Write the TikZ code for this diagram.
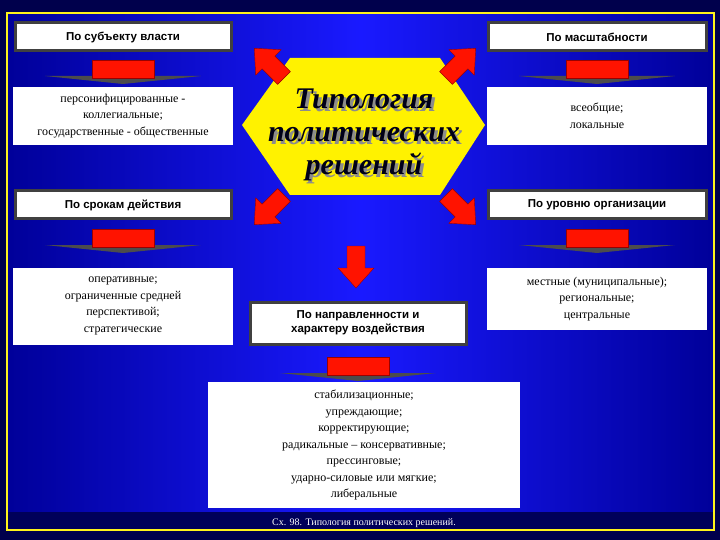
\documentclass[tikz,border=0pt]{standalone}
\usepackage{fontspec}
\setmainfont{Liberation Serif}
\newfontfamily\hdfont{Liberation Sans}
\begin{document}
\begin{tikzpicture}[x=1pt,y=-1pt,
  hdr/.style={draw=black!75,line width=3pt,fill=white,font=\hdfont\bfseries\fontsize{11.5}{14}\selectfont,align=center,inner sep=0pt},
  cnt/.style={fill=white,font=\fontsize{12}{16.5}\selectfont,align=center,inner sep=0pt},
  ttl/.style={font=\bfseries\itshape\fontsize{30}{33}\selectfont,align=center,inner sep=0pt},
  redc/.style={fill=red!85!orange,draw=red!60!black,line width=0.4pt}]
\useasboundingbox (0,0) rectangle (720,540);
\fill[blue!30!black] (0,0) rectangle (720,540);
\shade[left color=blue!60!black,right color=blue!60!black,middle color=blue!90!white] (7,13) rectangle (714,512);
\fill[blue!35!black] (7,512) rectangle (714,530);
\draw[yellow!90!white,line width=1.5pt] (7,13) rectangle (714,530);
\tikzset{blk/.pic={\path[redc] (0,-9)--(22,-9)--(22,-18)--(42,0)--(22,18)--(22,9)--(0,9)--cycle;}}
\tikzset{dn/.pic={\fill[black!70] (-78,-2)--(78,-2)--(0,6)--cycle;\path[redc] (-31,-18) rectangle (31,0);}}
% hexagon
\fill[yellow] (242,125)--(290,58)--(440,58)--(485,125)--(440,195)--(290,195)--cycle;
\node[ttl,text=black!45] at (367,138) {Типология\\политических\\решений};
\node (title) [ttl,text=black!90!blue] at (364,135) {Типология\\политических\\решений};
% headers
\node (h1) [hdr,minimum width=216,minimum height=28] at (123,37) {По субъекту власти};
\node (h2) [hdr,minimum width=218,minimum height=28] at (597,37) {По масштабности};
\node (h3) [hdr,minimum width=216,minimum height=28] at (123,205) {По срокам действия};
\node (h4) [hdr,minimum width=218,minimum height=28] at (597,205) {По уровню организации};
\node (h5) [hdr,minimum width=216,minimum height=42] at (358,323) {По направленности и\\характеру воздействия};
% contents
\node (c1) [cnt,minimum width=220,minimum height=58] at (123,116) {персонифицированные -\\коллегиальные;\\государственные - общественные};
\node (c2) [cnt,minimum width=220,minimum height=58] at (597,116) {всеобщие;\\локальные};
\node (c3) [cnt,minimum width=220,minimum height=77] at (123,306) {оперативные;\\ограниченные средней\\перспективой;\\стратегические};
\node (c4) [cnt,minimum width=220,minimum height=62] at (597,299) {местные (муниципальные);\\региональные;\\центральные};
\node (c5) [cnt,minimum width=312,minimum height=126] at (364,445) {стабилизационные;\\упреждающие;\\корректирующие;\\радикальные – консервативные;\\прессинговые;\\ударно-силовые или мягкие;\\либеральные};
% down arrows
\pic at (123,78) {dn};
\pic at (597,78) {dn};
\pic at (123,247) {dn};
\pic at (597,247) {dn};
\pic at (358,375) {dn};
% radial arrows
\pic[rotate=135] at (284,78) {blk};
\pic[rotate=45] at (446,78) {blk};
\pic[rotate=-135] at (284,195) {blk};
\pic[rotate=-45] at (446,195) {blk};
\pic[rotate=-90] at (356,246) {blk};
\node (cap) [text=white,font=\fontsize{10}{12}\selectfont,inner sep=0pt] at (364,523) {Сх. 98. Типология политических решений.};
\end{tikzpicture}
\end{document}
